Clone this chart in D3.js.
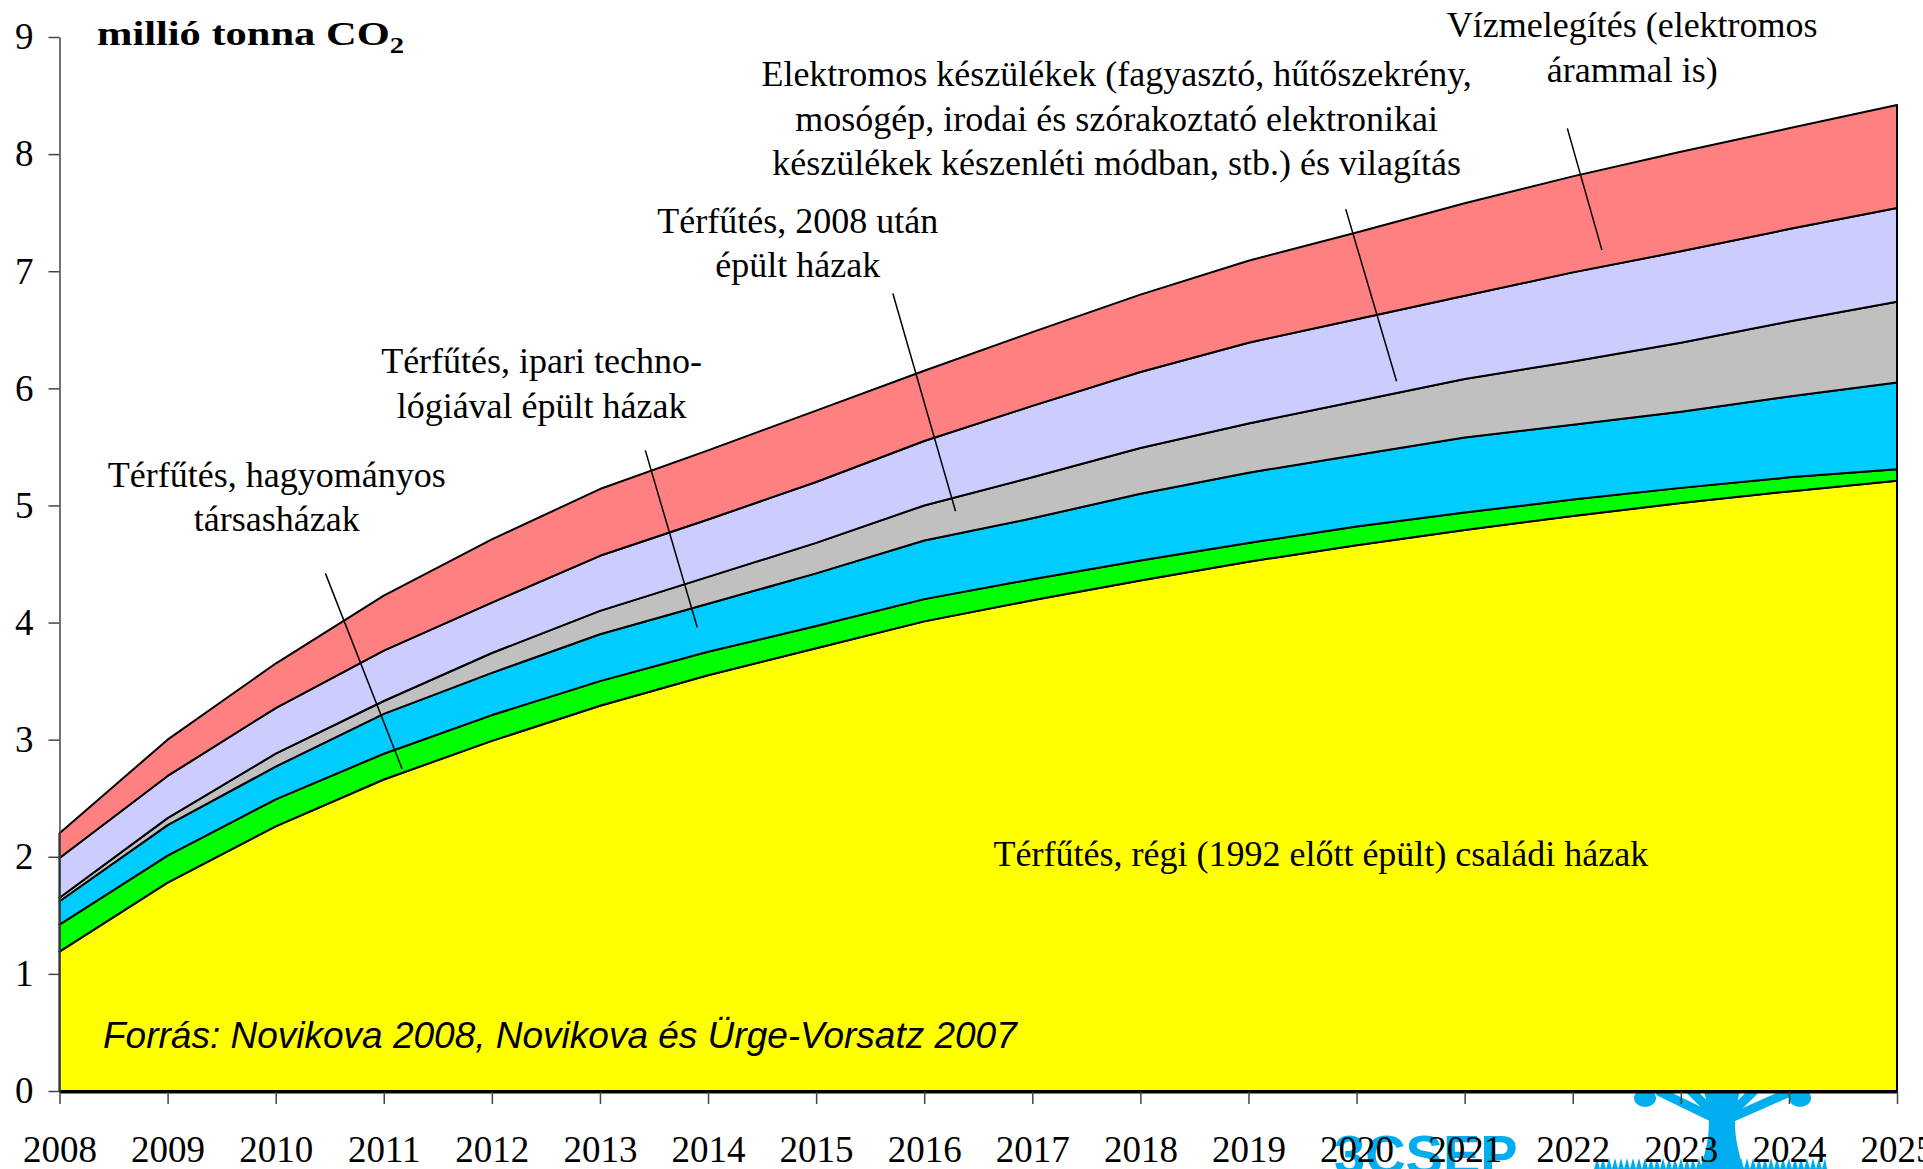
<html>
<head>
<meta charset="utf-8">
<script src="https://d3js.org/d3.v7.min.js"></script>
<style>
  body { margin: 0; background: #fff; }
  svg { display: block; }
  text { font-family: "Liberation Serif", "Times New Roman", serif; fill: #000; }
</style>
</head>
<body>
<svg width="1923" height="1169"></svg>

<script>
// years on the x axis
var years = [2008,2009,2010,2011,2012,2013,2014,2015,2016,2017,2018,2019,2020,2021,2022,2023,2024,2025];
var yTicks = [0,1,2,3,4,5,6,7,8,9];

// million tonnes CO2 per category (stacked, bottom to top)
var regi        = [1.19,1.78,2.26,2.66,2.99,3.29,3.55,3.78,4.01,4.19,4.36,4.52,4.66,4.79,4.91,5.02,5.12,5.21];
var hagyomanyos = [0.23,0.23,0.23,0.22,0.22,0.21,0.20,0.19,0.19,0.18,0.17,0.16,0.16,0.15,0.14,0.13,0.12,0.10];
var ipari       = [0.20,0.26,0.28,0.34,0.36,0.40,0.41,0.45,0.50,0.52,0.57,0.60,0.61,0.64,0.64,0.65,0.69,0.74];
var uj          = [0.03,0.06,0.11,0.11,0.17,0.20,0.23,0.26,0.30,0.35,0.39,0.42,0.46,0.50,0.54,0.59,0.64,0.69];
var elektromos  = [0.34,0.36,0.39,0.43,0.43,0.47,0.49,0.52,0.55,0.61,0.65,0.69,0.70,0.71,0.76,0.78,0.79,0.80];
var viz         = [0.21,0.31,0.38,0.47,0.54,0.57,0.59,0.61,0.60,0.63,0.66,0.70,0.74,0.79,0.82,0.85,0.86,0.88];

var keys = ["regi","hagyomanyos","ipari","uj","elektromos","viz"];
var colors = {regi:"#ffff00", hagyomanyos:"#00ff00", ipari:"#00ccff", uj:"#c0c0c0", elektromos:"#ccccff", viz:"#ff8080"};

// category labels with leader lines (positions in data units)
var notes = [
  {lines:["Térfűtés, hagyományos","társasházak"], at:[2010.01,5.16], from:[2010.46,4.42], to:[2011.17,2.75]},
  {lines:["Térfűtés, ipari techno-","lógiával épült házak"], at:[2012.46,6.13], from:[2013.42,5.47], to:[2013.90,3.96]},
  {lines:["Térfűtés, 2008 után","épült házak"], at:[2014.83,7.33], from:[2015.71,6.81], to:[2016.29,4.95]},
  {lines:["Elektromos készülékek (fagyasztó, hűtőszekrény,","mosógép, irodai és szórakoztató elektronikai","készülékek készenléti módban, stb.) és vilagítás"], at:[2017.78,8.58], from:[2019.90,7.53], to:[2020.37,6.06]},
  {lines:["Vízmelegítés (elektromos","árammal is)"], at:[2022.55,9.0], from:[2021.95,8.22], to:[2022.27,7.18]},
  {lines:["Térfűtés, régi (1992 előtt épült) családi házak"], at:[2019.67,1.92]}
];

var svg = d3.select("svg");

var x = d3.scaleLinear().domain([2008,2025]).range([59.5,1897]);
var y = d3.scaleLinear().domain([0,9]).range([1091,37]);

//logo behind the chart
var logo = svg.append("g").attr("fill","#00aeef");
logo.append("text")
  .attr("x",1334).attr("y",1174)
  .style("font-family","'Liberation Sans', Arial, sans-serif")
  .style("font-weight","bold").style("font-size","56px")
  .style("fill","#00aeef")
  .text("3CSEP");
logo.append("path")
  .attr("d","M1700,1169 C1710,1140 1712,1118 1704,1092 L1740,1092 C1732,1118 1734,1140 1744,1169 Z");
[[1660,1092],[1690,1090],[1755,1090],[1790,1092]].forEach(function(p){
  logo.append("line")
    .attr("x1",1722).attr("y1",1122).attr("x2",p[0]).attr("y2",p[1])
    .attr("stroke","#00aeef").attr("stroke-width",9).attr("stroke-linecap","round");
});
logo.append("ellipse").attr("cx",1645).attr("cy",1098).attr("rx",11).attr("ry",9);
logo.append("ellipse").attr("cx",1800).attr("cy",1098).attr("rx",11).attr("ry",9);
var grass = "M1594,1169";
for (var gx = 1594; gx <= 1827; gx += 6) {
  grass += " L" + gx + ",1169 L" + (gx+3) + ",1158";
}
grass += " L1827,1169 Z";
logo.append("path").attr("d",grass);

//stacked areas
var table = years.map(function(yr,i){
  return {year:yr, regi:regi[i], hagyomanyos:hagyomanyos[i], ipari:ipari[i], uj:uj[i], elektromos:elektromos[i], viz:viz[i]};
});
var series = d3.stack().keys(keys)(table);

var area = d3.area()
  .x(function(d){return x(d.data.year);})
  .y0(function(d){return y(d[0]);})
  .y1(function(d){return y(d[1]);});

svg.append("g").selectAll("path").data(series).enter().append("path")
  .attr("d", area)
  .attr("fill", function(d){return colors[d.key];})
  .attr("stroke","#000")
  .attr("stroke-width",2)
  .attr("stroke-linejoin","round");

//y axis
var yaxis = svg.append("g")
  .attr("transform","translate(59.5,0)")
  .call(d3.axisLeft(y).tickValues(yTicks).tickSize(11).tickSizeOuter(0).tickPadding(15));
yaxis.select(".domain").attr("stroke","#444").attr("stroke-width",1.5);
yaxis.selectAll(".tick line").attr("stroke","#444").attr("stroke-width",1.5);
yaxis.selectAll(".tick text")
  .style("font-family","'Liberation Serif', 'Times New Roman', serif")
  .style("font-size","37px").attr("fill","#000");

//x axis
var xaxis = svg.append("g")
  .attr("transform","translate(0,1092)")
  .call(d3.axisBottom(x).tickValues(years).tickFormat(d3.format("d")).tickSize(12).tickSizeOuter(0));
xaxis.select(".domain").attr("stroke","#000").attr("stroke-width",2);
xaxis.selectAll(".tick line").attr("stroke","#444").attr("stroke-width",1.5);
xaxis.selectAll(".tick text")
  .attr("y",70).attr("dy",null)
  .style("font-family","'Liberation Serif', 'Times New Roman', serif")
  .style("font-size","37px").attr("fill","#000");

//title
var title = svg.append("text")
  .attr("transform","translate(97,45) scale(1.25,1)")
  .style("font-weight","bold").style("font-size","34px");
title.append("tspan").text("millió tonna CO");
title.append("tspan").attr("dy",8).style("font-size","23px").text("2");

//leader lines
svg.append("g").selectAll("line").data(notes.filter(function(n){return n.from;})).enter().append("line")
  .attr("x1",function(n){return x(n.from[0]);})
  .attr("y1",function(n){return y(n.from[1]);})
  .attr("x2",function(n){return x(n.to[0]);})
  .attr("y2",function(n){return y(n.to[1]);})
  .attr("stroke","#000").attr("stroke-width",1.5);

//labels
notes.forEach(function(n){
  var t = svg.append("text")
    .attr("text-anchor","middle")
    .style("font-size","36px");
  n.lines.forEach(function(line,i){
    t.append("tspan")
      .attr("x",x(n.at[0]))
      .attr("y",y(n.at[1]) + i*44.5)
      .text(line);
  });
});

//source
svg.append("text")
  .attr("x",103).attr("y",1048)
  .style("font-family","'Liberation Sans', Arial, sans-serif")
  .style("font-style","italic").style("font-size","37px")
  .text("Forrás: Novikova 2008, Novikova és Ürge-Vorsatz 2007");
</script>
</body>
</html>
